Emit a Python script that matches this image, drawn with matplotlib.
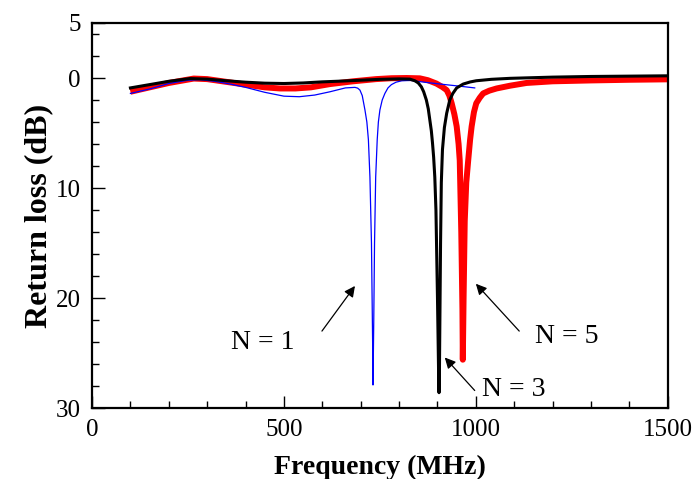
import matplotlib
matplotlib.use("Agg")
import matplotlib.pyplot as plt
from matplotlib.ticker import MultipleLocator, FixedLocator

plt.rcParams['font.family'] = ['Liberation Serif', 'DejaVu Serif']

# return loss curves (MHz, dB), one per number of cells N
freq_n1 = [100, 150, 200, 250, 280, 320, 360, 400, 450, 500, 540, 580, 620, 660, 685,
           692, 698, 704, 711, 716, 720, 724, 728, 731, 732, 734, 736, 739, 743, 746,
           750, 756, 763, 771, 780, 792, 807, 830, 870, 920, 960, 997]
rl_n1 = [1.4, 1.0, 0.5, 0.2, 0.15, 0.3, 0.55, 0.85, 1.3, 1.65, 1.7, 1.55, 1.25, 0.9, 0.85,
         0.92, 1.1, 1.6, 2.9, 4.0, 5.6, 9.0, 15.0, 24.0, 27.9, 22.0, 15.0, 9.0, 5.6, 4.0,
         2.9, 2.0, 1.4, 0.9, 0.6, 0.38, 0.25, 0.22, 0.4, 0.6, 0.75, 0.9]

freq_n3 = [100, 150, 200, 255, 300, 350, 400, 450, 500, 550, 600, 650, 700, 750, 800,
           828, 841, 850, 858, 864, 871, 876, 880, 884, 887, 890, 893, 896, 900, 903,
           904, 905, 908, 910, 913, 918, 924, 932, 940, 950, 967, 985, 1001, 1040, 1089,
           1200, 1300, 1400, 1500]
rl_n3 = [0.9, 0.6, 0.3, 0.05, 0.1, 0.25, 0.38, 0.47, 0.5, 0.45, 0.35, 0.28, 0.2, 0.12, 0.08,
         0.1, 0.25, 0.45, 0.8, 1.25, 2.0, 2.8, 3.8, 4.8, 5.9, 7.2, 9.0, 12.0, 20.0, 27.0,
         28.6, 27.0, 15.0, 9.5, 6.5, 4.5, 3.2, 2.0, 1.4, 0.9, 0.55, 0.36, 0.25, 0.12, 0.03,
         -0.08, -0.14, -0.17, -0.2]

freq_n5 = [100, 150, 200, 265, 300, 350, 400, 450, 490, 530, 570, 620, 680, 740, 780,
           820, 854, 875, 897, 912, 924, 931, 937, 944, 950, 955, 958, 962, 965, 966,
           968, 971, 975, 980, 985, 989, 995, 1001, 1010, 1019, 1035, 1054, 1089, 1132,
           1200, 1300, 1400, 1500]
rl_n5 = [1.25, 0.85, 0.45, 0.05, 0.1, 0.35, 0.6, 0.85, 0.95, 0.95, 0.85, 0.55, 0.3, 0.1, 0.02,
         0.0, 0.03, 0.2, 0.5, 0.8, 1.1, 1.6, 2.3, 3.3, 4.4, 6.0, 7.5, 14.0, 21.0, 25.6,
         20.0, 13.0, 9.5, 7.5, 5.6, 4.4, 3.1, 2.3, 1.8, 1.4, 1.15, 0.95, 0.7, 0.45,
         0.3, 0.22, 0.16, 0.12]

# labels: (text, text position, arrow tip, arrow tail)
notes = [("N = 1", (445, 24.0), (685, 18.9), (599, 23.0)),
         ("N = 3", (1098, 28.3), (919, 25.4), (997, 28.4)),
         ("N = 5", (1238, 23.5), (1000, 18.7), (1113, 23.0))]

fig = plt.figure(figsize=(6.92, 4.79), dpi=100)
ax = fig.add_axes([0.133, 0.148, 0.832, 0.804])

ax.plot(freq_n1, rl_n1, color='blue', lw=0.9, zorder=3)
ax.plot(freq_n5, rl_n5, color='red', lw=4.3, solid_capstyle='butt', zorder=2)
ax.plot(freq_n3, rl_n3, color='black', lw=2.2, zorder=4)

for txt, pos, tip, tail in notes:
    ax.annotate("", xy=tip, xytext=tail,
                arrowprops=dict(arrowstyle='-|>', color='black', lw=0.9,
                                mutation_scale=16, shrinkA=0, shrinkB=0))
    ax.text(pos[0], pos[1], txt, fontsize=20, ha='center', va='center')

ax.set_xlim(0, 1500)
ax.set_ylim(30, -5)
ax.xaxis.set_major_locator(MultipleLocator(500))
ax.xaxis.set_minor_locator(MultipleLocator(100))
ax.yaxis.set_major_locator(FixedLocator([-5, 0, 10, 20, 30]))
ax.yaxis.set_minor_locator(MultipleLocator(2))
ax.set_yticklabels(['5', '0', '10', '20', '30'])

ax.tick_params(which='both', direction='in', top=False, right=False,
               labelsize=18, width=1, pad=8)
ax.tick_params(which='major', length=9)
ax.tick_params(which='minor', length=5)
for s in ax.spines.values():
    s.set_linewidth(1.6)

ax.set_xlabel("Frequency (MHz)", fontsize=20, fontweight='bold', labelpad=10)
ax.set_ylabel("Return loss (dB)", fontsize=23, fontweight='bold', labelpad=2)

fig.savefig("out.png", dpi=100)
